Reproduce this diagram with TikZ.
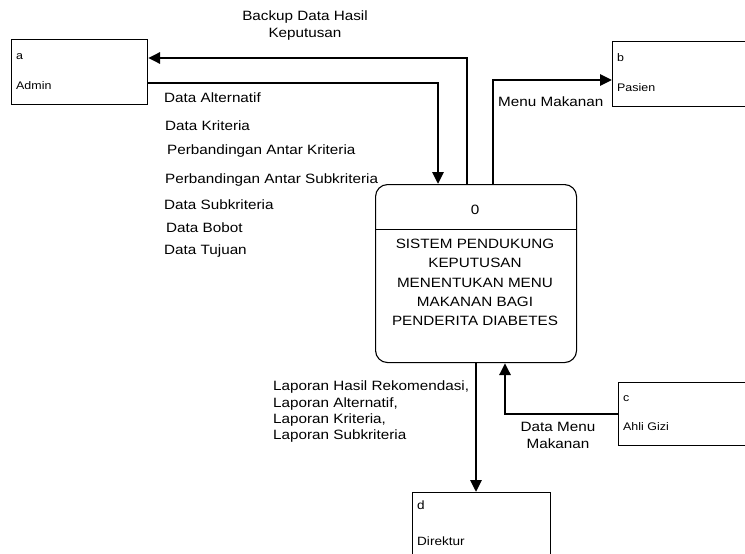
\documentclass[tikz,border=0pt]{standalone}
\usepackage{fontspec}
\setmainfont{Liberation Sans}[FakeStretch=1.13]
\usetikzlibrary{arrows.meta}
\begin{document}
\begin{tikzpicture}[x=1pt,y=-1pt,
  ent/.style={draw,line width=1.1pt,inner sep=0pt,anchor=north west},
  small/.style={font=\fontsize{11}{13}\selectfont,anchor=west,inner sep=0pt},
  lbl/.style={font=\fontsize{13.5}{17}\selectfont,inner sep=0pt},
  flow/.style={line width=2.8pt,-{Triangle[length=12pt,width=11pt]}}]
\useasboundingbox (0,0) rectangle (745,554);
\clip (0,0) rectangle (745,554);
% entities
\node[ent,minimum width=136pt,minimum height=65pt] (admin) at (11,39) {};
\node[small] (adminid) at (16,57) {a};
\node[small] (adminname) at (16,86) {Admin};
\node[ent,minimum width=160pt,minimum height=65pt] (pasien) at (612,41) {};
\node[small] (pasienid) at (617,58) {b};
\node[small] (pasienname) at (617,88) {Pasien};
\node[ent,minimum width=160pt,minimum height=63pt] (ahli) at (618,382) {};
\node[small] (ahliid) at (623,399) {c};
\node[small] (ahliname) at (623,427) {Ahli Gizi};
\node[ent,minimum width=138pt,minimum height=80pt] (direktur) at (412,492) {};
\node[small,font=\fontsize{12}{14}\selectfont] (direkturid) at (417,505) {d};
\node[small,font=\fontsize{12}{14}\selectfont] (direkturname) at (417,541) {Direktur};
% process
\node[draw,line width=1.1pt,rounded corners=12pt,minimum width=201pt,minimum height=178pt,anchor=north west,inner sep=0pt] (proc) at (375,184) {};
\draw[line width=1pt] (proc.west |- 0,229) coordinate (dl) -- (proc.east |- 0,229) coordinate (dr);
\node[lbl] (procid) at (475,210) {0};
\node[lbl,align=center,font=\fontsize{13.5}{19.2}\selectfont,anchor=north] (procname) at (475,239) {SISTEM PENDUKUNG\\KEPUTUSAN\\MENENTUKAN MENU\\MAKANAN BAGI\\PENDERITA DIABETES};
% flows
\coordinate (b1) at (467,184);
\draw[flow] (b1) |- (admin.east |- 0,58);
\draw[flow] (admin.east |- 0,83) -| (proc.north -| 438,0);
\draw[flow] (proc.north -| 493,0) |- (pasien.west |- 0,80);
\draw[flow] (proc.south -| 476,0) -- (direktur.north -| 476,0);
\draw[flow] (ahli.west |- 0,414) -| (proc.south -| 505,0);
% labels
\node[lbl,align=center] (backup) at (305,26) {Backup Data Hasil\\Keputusan};
\node[lbl,anchor=west] (l1) at (164,98) {Data Alternatif};
\node[lbl,anchor=west] (l2) at (165,126) {Data Kriteria};
\node[lbl,anchor=west] (l3) at (167,151) {Perbandingan Antar Kriteria};
\node[lbl,anchor=west] (l4) at (165,180) {Perbandingan Antar Subkriteria};
\node[lbl,anchor=west] (l5) at (164,205) {Data Subkriteria};
\node[lbl,anchor=west] (l6) at (166,228) {Data Bobot};
\node[lbl,anchor=west] (l7) at (164,251) {Data Tujuan};
\node[lbl,anchor=west] (menu) at (498,102) {Menu Makanan};
\node[lbl,align=left,anchor=north west,font=\fontsize{13.5}{16.3}\selectfont] (lap) at (273,381) {Laporan Hasil Rekomendasi,\\Laporan Alternatif,\\Laporan Kriteria,\\Laporan Subkriteria};
\node[lbl,align=center] (dmm) at (558,435) {Data Menu\\Makanan};
\end{tikzpicture}
\end{document}
